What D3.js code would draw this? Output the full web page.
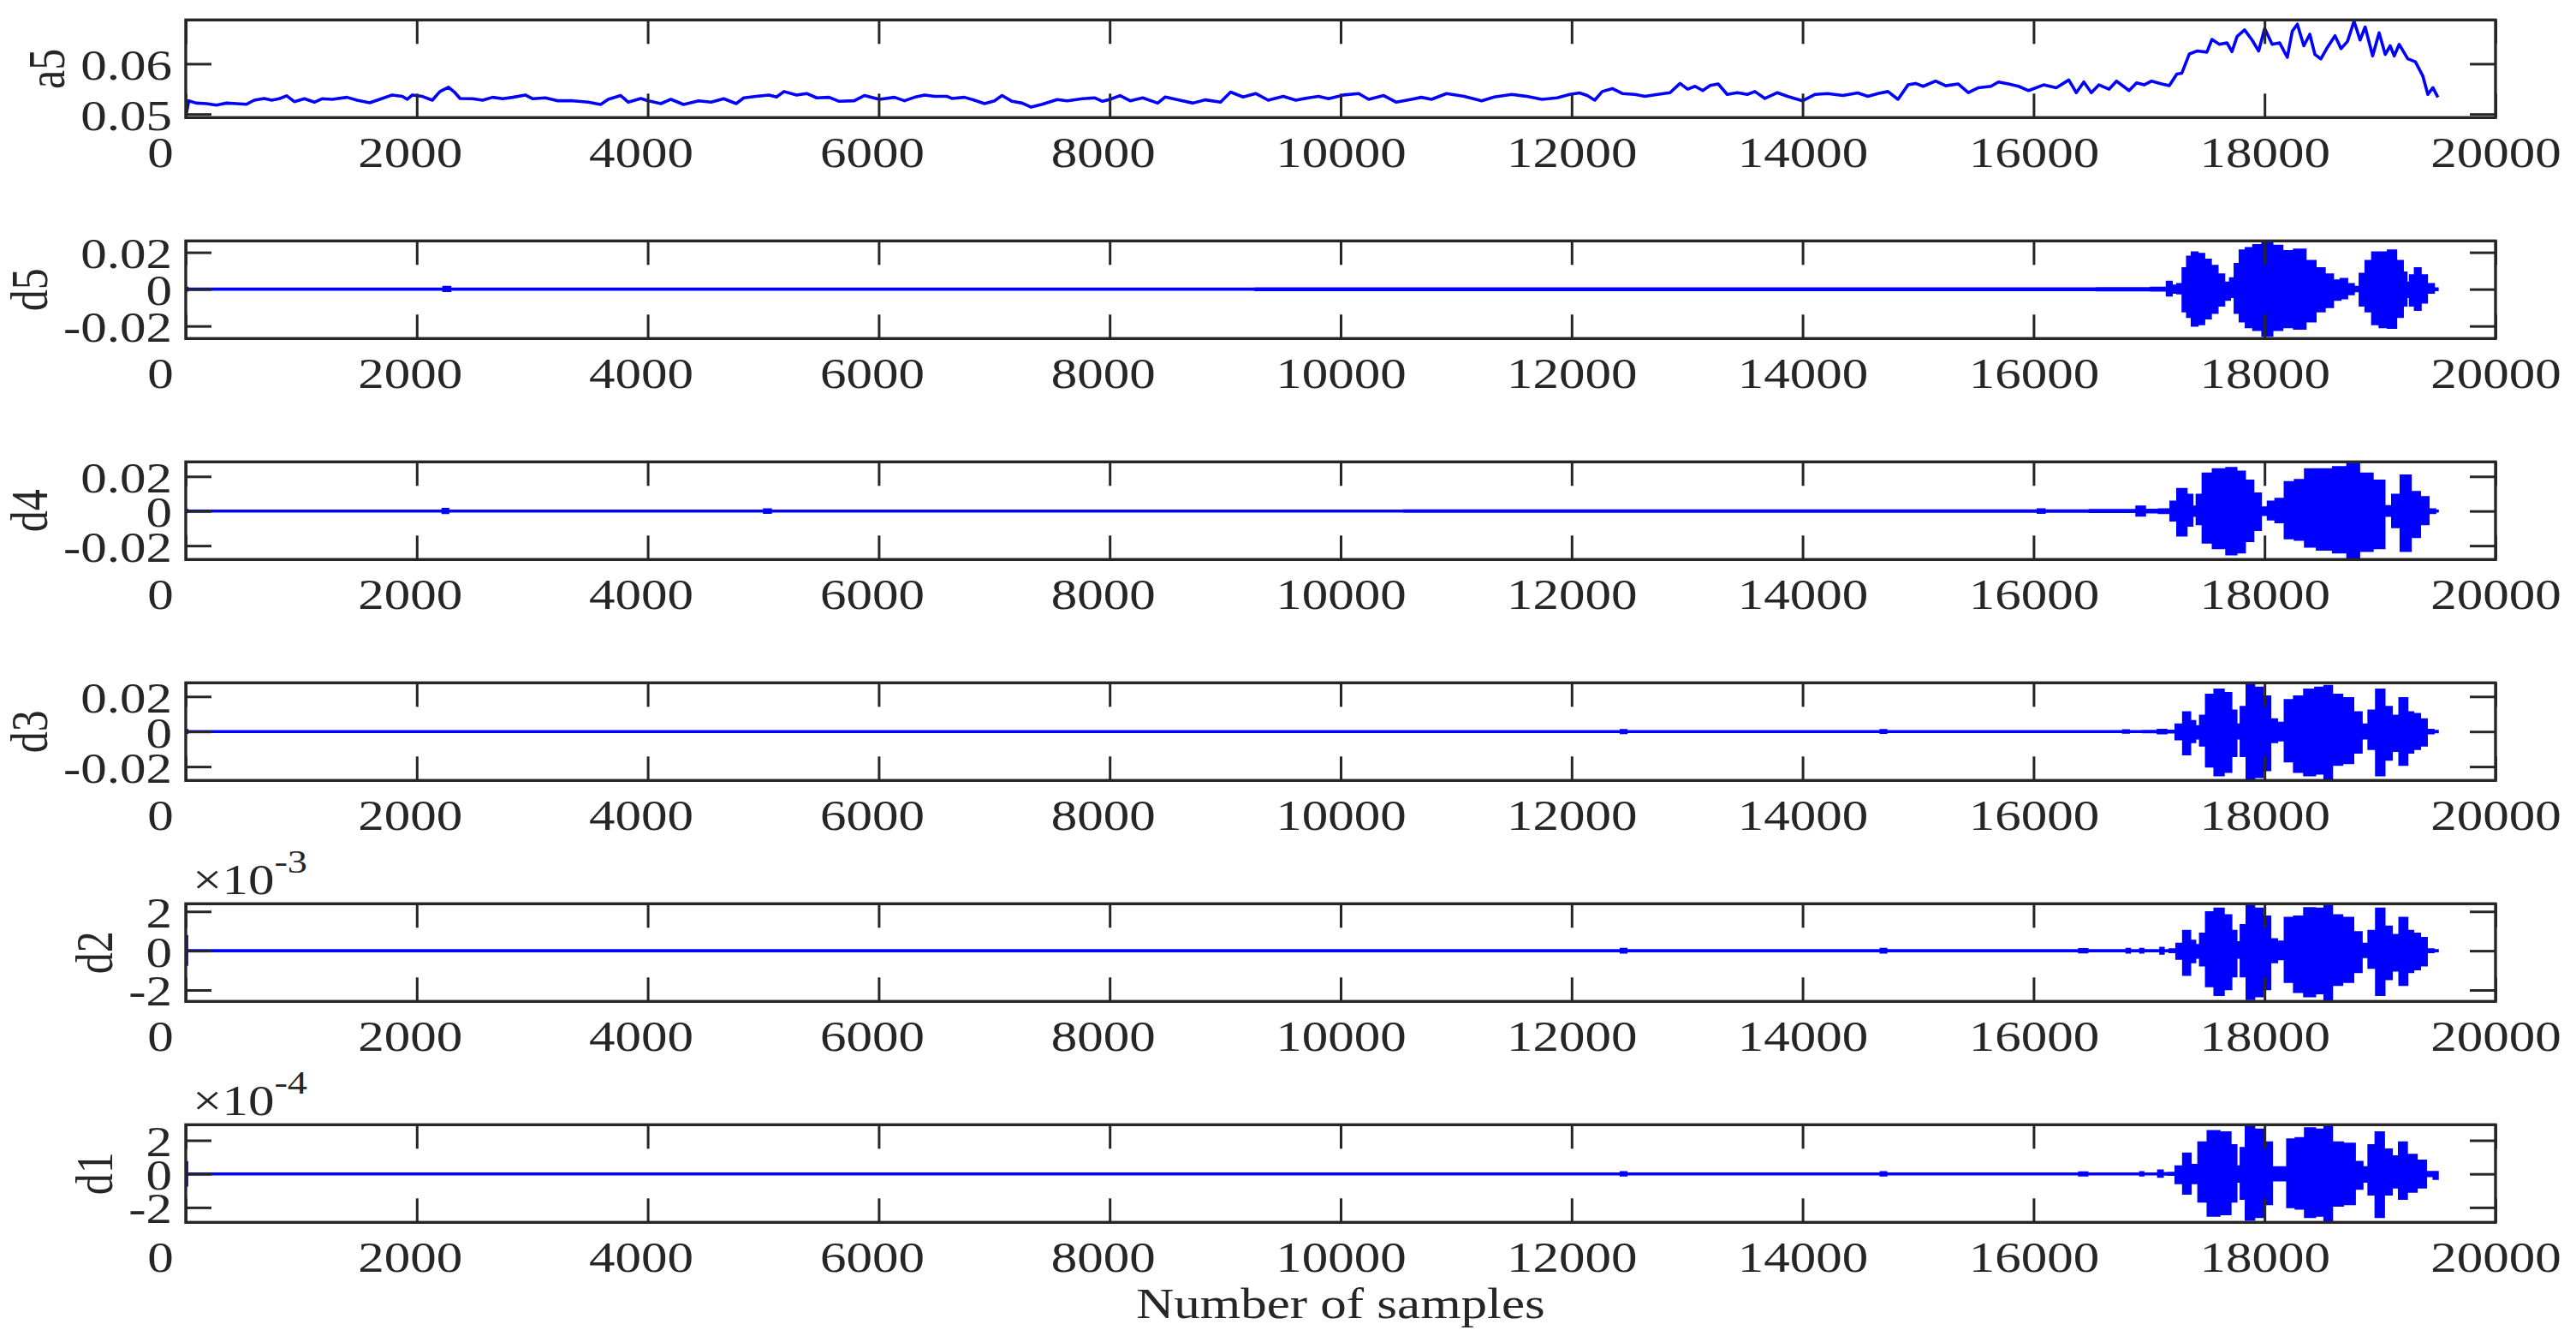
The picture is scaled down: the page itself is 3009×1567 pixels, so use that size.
<!DOCTYPE html>
<html>
<head>
<meta charset="utf-8">
<script src="https://cdn.jsdelivr.net/npm/d3@7"></script>
<style>
  body { margin: 0; background: #ffffff; }
  svg { display: block; }
  text { font-family: "Liberation Serif", "Times New Roman", serif; }
</style>
</head>
<body>
<svg id="chart"></svg>
<script>
const [WIDTH, HEIGHT] = [3009, 1567];
const LEFT = 217;
const PLOT_W = 2698;
const PLOT_H = 114;
const FIRST_TOP = 23.3;
const PANEL_STEP = 258;
const FONT_SIZE = 50;
const TEXT_STRETCH = 1.22; // the reference is stretched sideways
const AXIS_COLOR = "#262626";
const LINE_COLOR = "#0000ff";

// ---- axes ----
const xTicks = [0, 2000, 4000, 6000, 8000, 10000, 12000, 14000, 16000, 18000, 20000];
const panelNames = ["a5", "d5", "d4", "d3", "d2", "d1"];
const yDomains = [
  [0.0493, 0.0687],
  [-0.0268, 0.0262],
  [-0.0280, 0.0284],
  [-0.0279, 0.0278],
  [-0.00258, 0.00239],
  [-0.000289, 0.000293]
];
const yTicks = [
  [0.05, 0.06],
  [-0.02, 0, 0.02],
  [-0.02, 0, 0.02],
  [-0.02, 0, 0.02],
  [-0.002, 0, 0.002],
  [-0.0002, 0, 0.0002]
];
const yTickLabels = [
  ["0.05", "0.06"],
  ["-0.02", "0", "0.02"],
  ["-0.02", "0", "0.02"],
  ["-0.02", "0", "0.02"],
  ["-2", "0", "2"],
  ["-2", "0", "2"]
];
const exponents = [null, null, null, null, "-3", "-4"];
const xLabel = "Number of samples";

// ---- a5 approximation ----
const a5Samples = [0, 26, 91, 178, 265, 352, 439, 526, 592, 679, 744, 809, 874, 940, 1027, 1113, 1179, 1266, 1396, 1483,
  1592, 1679, 1788, 1875, 1918, 1962, 2049, 2135, 2201, 2275, 2331, 2375, 2483, 2570, 2657, 2744, 2831, 2940, 3005, 3114,
  3223, 3353, 3484, 3592, 3658, 3766, 3832, 3940, 4005, 4114, 4201, 4310, 4440, 4549, 4658, 4766, 4832, 4940, 5049, 5115,
  5180, 5289, 5376, 5463, 5571, 5658, 5788, 5876, 6006, 6137, 6223, 6310, 6397, 6484, 6593, 6633, 6742, 6829, 6916, 7003,
  7068, 7155, 7242, 7320, 7416, 7546, 7633, 7764, 7872, 7938, 8003, 8090, 8177, 8286, 8416, 8481, 8590, 8721, 8829, 8960,
  9047, 9155, 9264, 9373, 9503, 9612, 9721, 9808, 9895, 10025, 10156, 10243, 10373, 10482, 10613, 10699, 10786, 10917, 11069, 11221,
  11330, 11482, 11613, 11743, 11874, 11983, 12069, 12135, 12200, 12265, 12352, 12439, 12548, 12635, 12743, 12852, 12939, 13004, 13069, 13135,
  13200, 13269, 13347, 13434, 13521, 13587, 13674, 13782, 13869, 14000, 14109, 14217, 14348, 14478, 14565, 14652, 14739, 14826, 14913, 14978,
  15044, 15152, 15239, 15348, 15435, 15522, 15631, 15696, 15783, 15870, 15957, 16087, 16196, 16305, 16370, 16435, 16500, 16566, 16653, 16718,
  16827, 16892, 16957, 17022, 17109, 17175, 17240, 17283, 17349, 17414, 17501, 17544, 17609, 17675, 17718, 17762, 17827, 17892, 17949, 18001,
  18066, 18131, 18197, 18240, 18284, 18340, 18392, 18436, 18488, 18545, 18610, 18662, 18718, 18775, 18827, 18871, 18936, 18992, 19045, 19088,
  19123, 19166, 19240, 19306, 19371, 19414, 19458, 19501];
const a5Values = [0.04948, 0.05264, 0.05218, 0.05207, 0.05178, 0.05218, 0.05207, 0.05195, 0.05276, 0.05310, 0.05276, 0.05305, 0.05362, 0.05247, 0.05305, 0.05236, 0.05305, 0.05293, 0.05333, 0.05276,
  0.05224, 0.05293, 0.05379, 0.05351, 0.05293, 0.05379, 0.05351, 0.05276, 0.05448, 0.05534, 0.05425, 0.05310, 0.05305, 0.05276, 0.05333, 0.05305, 0.05333, 0.05379, 0.05305, 0.05322,
  0.05264, 0.05264, 0.05236, 0.05190, 0.05293, 0.05368, 0.05236, 0.05310, 0.05264, 0.05207, 0.05293, 0.05190, 0.05264, 0.05236, 0.05305, 0.05207, 0.05322, 0.05351, 0.05379, 0.05339,
  0.05448, 0.05379, 0.05408, 0.05322, 0.05333, 0.05253, 0.05264, 0.05368, 0.05293, 0.05333, 0.05264, 0.05333, 0.05379, 0.05351, 0.05351, 0.05310, 0.05333, 0.05276, 0.05207, 0.05264,
  0.05368, 0.05253, 0.05218, 0.05138, 0.05195, 0.05287, 0.05264, 0.05305, 0.05322, 0.05253, 0.05293, 0.05368, 0.05264, 0.05322, 0.05218, 0.05339, 0.05282, 0.05218, 0.05282, 0.05236,
  0.05437, 0.05339, 0.05408, 0.05276, 0.05351, 0.05276, 0.05322, 0.05351, 0.05305, 0.05379, 0.05408, 0.05293, 0.05368, 0.05236, 0.05293, 0.05333, 0.05293, 0.05408, 0.05351, 0.05264,
  0.05339, 0.05391, 0.05351, 0.05293, 0.05322, 0.05391, 0.05420, 0.05368, 0.05276, 0.05448, 0.05506, 0.05408, 0.05391, 0.05351, 0.05391, 0.05425, 0.05609, 0.05494, 0.05552, 0.05466,
  0.05569, 0.05598, 0.05391, 0.05425, 0.05391, 0.05448, 0.05310, 0.05425, 0.05351, 0.05264, 0.05391, 0.05408, 0.05368, 0.05420, 0.05351, 0.05408, 0.05448, 0.05293, 0.05580, 0.05609,
  0.05552, 0.05655, 0.05563, 0.05598, 0.05425, 0.05523, 0.05552, 0.05638, 0.05598, 0.05552, 0.05466, 0.05580, 0.05523, 0.05678, 0.05425, 0.05638, 0.05425, 0.05580, 0.05494, 0.05655,
  0.05466, 0.05621, 0.05580, 0.05655, 0.05598, 0.05563, 0.05793, 0.05810, 0.06195, 0.06253, 0.06230, 0.06483, 0.06385, 0.06414, 0.06241, 0.06540, 0.06672, 0.06471, 0.06253, 0.06701,
  0.06385, 0.06414, 0.06126, 0.06644, 0.06787, 0.06356, 0.06586, 0.06184, 0.06098, 0.06328, 0.06557, 0.06299, 0.06443, 0.06845, 0.06471, 0.06730, 0.06155, 0.06615, 0.06184, 0.06356,
  0.06155, 0.06385, 0.06098, 0.06040, 0.05753, 0.05391, 0.05523, 0.05333];

// ---- detail envelopes (upper / lower extent of the oscillation) ----
const d5Samples = [0, 30, 2200, 2261, 2320, 16200, 16900, 17132, 17175, 17218, 17270, 17310, 17348, 17391, 17449, 17506, 17564, 17622, 17679, 17722,
  17760, 17809, 17866, 17938, 18024, 18111, 18197, 18312, 18399, 18485, 18557, 18629, 18687, 18744, 18802, 18845, 18903, 18960, 19032, 19104,
  19176, 19219, 19240, 19277, 19326, 19378, 19435, 19499];
const d5Upper = [0.0008, 0.0003, 0.0003, 0.0012, 0.0003, 0.0005, 0.0006, 0.0008, 0.0041, 0.002, 0.0028, 0.0114, 0.0176, 0.020, 0.0192, 0.016, 0.0126, 0.008, 0.0036, 0.0059,
  0.0137, 0.021, 0.0223, 0.0239, 0.0259, 0.0236, 0.0207, 0.0215, 0.0153, 0.0114, 0.008, 0.0048, 0.0055, 0.0028, 0.0012, 0.0083, 0.0153, 0.020, 0.020, 0.021,
  0.0153, 0.009, 0.0036, 0.0075, 0.0114, 0.0075, 0.0028, 0.0005];
const d5Lower = [-0.0008, -0.0003, -0.0003, -0.0010, -0.0003, -0.0005, -0.0006, -0.0008, -0.0034, -0.0019, -0.0023, -0.012, -0.0151, -0.0198, -0.019, -0.0159, -0.0128, -0.0089, -0.0058, -0.0042,
  -0.0128, -0.0175, -0.0206, -0.0222, -0.0253, -0.0222, -0.0206, -0.0214, -0.0175, -0.012, -0.0097, -0.0058, -0.005, -0.0027, -0.0011, -0.0089, -0.012, -0.019, -0.0206, -0.021,
  -0.0151, -0.0089, -0.0042, -0.0089, -0.0112, -0.0073, -0.0019, -0.0005];

const d4Samples = [0, 30, 2200, 2246, 2300, 4980, 5033, 5100, 16000, 16071, 16120, 16850, 16930, 17000, 17170, 17200, 17288, 17361, 17390, 17434,
  17493, 17610, 17727, 17786, 17874, 17932, 18006, 18050, 18138, 18211, 18313, 18387, 18519, 18665, 18768, 18870, 19002, 19075, 19134, 19222,
  19310, 19383, 19457, 19500];
const d4Upper = [0.0006, 0.0003, 0.0003, 0.0012, 0.0003, 0.0003, 0.0010, 0.0003, 0.0004, 0.0010, 0.0004, 0.0006, 0.0026, 0.0008, 0.001, 0.0054, 0.0127, 0.0094, 0.0026, 0.0094,
  0.0216, 0.0241, 0.0249, 0.0228, 0.0176, 0.0102, 0.0021, 0.0054, 0.007, 0.0167, 0.0179, 0.0241, 0.0241, 0.0254, 0.0273, 0.0216, 0.0176, 0.0029, 0.0094, 0.0205,
  0.011, 0.0081, 0.001, 0.0003];
const d4Lower = [-0.0006, -0.0003, -0.0003, -0.0012, -0.0003, -0.0003, -0.0010, -0.0003, -0.0004, -0.0010, -0.0004, -0.0006, -0.0026, -0.0008, -0.0011, -0.0055, -0.0141, -0.0085, -0.0028, -0.0076,
  -0.0182, -0.0215, -0.025, -0.0239, -0.0174, -0.0109, -0.0023, -0.0049, -0.0065, -0.0158, -0.0166, -0.0206, -0.0223, -0.0239, -0.0272, -0.0231, -0.0215, -0.0028, -0.0093, -0.0231,
  -0.015, -0.0076, -0.0011, -0.0003];

const d3Samples = [0, 30, 12400, 12450, 12500, 14650, 14700, 14750, 16750, 16800, 16850, 17050, 17100, 17200, 17258, 17331, 17381, 17419, 17463, 17522,
  17610, 17683, 17742, 17771, 17815, 17874, 17947, 18020, 18079, 18138, 18211, 18299, 18387, 18489, 18548, 18621, 18724, 18812, 18870, 18929,
  19002, 19075, 19128, 19207, 19266, 19310, 19383, 19427, 19500];
const d3Upper = [0.0008, 0.0003, 0.0003, 0.0009, 0.0003, 0.0003, 0.0008, 0.0003, 0.0003, 0.0007, 0.0003, 0.0004, 0.001, 0.0005, 0.004, 0.011, 0.006, 0.003, 0.009, 0.021,
  0.024, 0.022, 0.012, 0.004, 0.014, 0.027, 0.025, 0.020, 0.007, 0.005, 0.018, 0.020, 0.024, 0.025, 0.026, 0.021, 0.019, 0.011, 0.004, 0.012,
  0.024, 0.014, 0.009, 0.019, 0.011, 0.010, 0.007, 0.001, 0.0004];
const d3Lower = [-0.0008, -0.0003, -0.0003, -0.0009, -0.0003, -0.0003, -0.0008, -0.0003, -0.0003, -0.0007, -0.0003, -0.0004, -0.001, -0.0005, -0.0045, -0.013, -0.006, -0.004, -0.008, -0.020,
  -0.025, -0.023, -0.014, -0.004, -0.014, -0.028, -0.026, -0.022, -0.006, -0.005, -0.017, -0.023, -0.025, -0.024, -0.027, -0.019, -0.018, -0.012, -0.004, -0.010,
  -0.025, -0.016, -0.011, -0.019, -0.012, -0.010, -0.008, -0.001, -0.0004];

const d2Samples = [0, 25, 12400, 12450, 12500, 14650, 14700, 14750, 16380, 16408, 16452, 16480, 16790, 16819, 16850, 16910, 16936, 16965, 17082, 17112,
  17141, 17214, 17258, 17331, 17381, 17419, 17463, 17522, 17610, 17683, 17742, 17771, 17815, 17874, 17947, 18020, 18079, 18138, 18211, 18299,
  18387, 18489, 18548, 18621, 18724, 18812, 18870, 18929, 19002, 19075, 19128, 19207, 19266, 19310, 19383, 19427, 19500];
const d2Upper = [0.00075, 0.00003, 0.00003, 0.00009, 0.00003, 0.00003, 0.00009, 0.00003, 0.00003, 0.00008, 0.00008, 0.00003, 0.00003, 0.00009, 0.00003, 0.00003, 0.00009, 0.00003, 0.00003, 0.000145,
  0.00003, 0.00007, 0.00036, 0.00101, 0.00051, 0.00029, 0.00087, 0.00196, 0.00214, 0.00181, 0.00101, 0.00043, 0.0013, 0.00229, 0.00214, 0.00174, 0.00058, 0.00046, 0.00167, 0.00174,
  0.00217, 0.00214, 0.00235, 0.00181, 0.00167, 0.00094, 0.00036, 0.00101, 0.00214, 0.00123, 0.0008, 0.00167, 0.00101, 0.00087, 0.00065, 0.00007, 0.00003];
const d2Lower = [-0.00072, -0.00003, -0.00003, -0.00009, -0.00003, -0.00003, -0.00009, -0.00003, -0.00003, -0.00008, -0.00008, -0.00003, -0.00003, -0.00009, -0.00003, -0.00003, -0.00009, -0.00003, -0.00003, -0.000145,
  -0.00003, -0.00007, -0.00041, -0.00123, -0.00058, -0.00036, -0.00075, -0.00181, -0.00225, -0.00196, -0.0013, -0.00036, -0.0013, -0.00246, -0.00232, -0.00196, -0.00058, -0.00043, -0.00159, -0.0021,
  -0.00232, -0.00217, -0.00254, -0.00174, -0.00159, -0.00109, -0.00032, -0.00087, -0.00225, -0.00145, -0.00101, -0.00174, -0.00109, -0.00094, -0.00075, -0.00007, -0.00003];

const d1Samples = [0, 25, 12400, 12450, 12500, 14650, 14700, 14750, 16380, 16408, 16452, 16480, 16910, 16936, 16965, 17060, 17097, 17140, 17200, 17258,
  17331, 17390, 17463, 17551, 17669, 17742, 17771, 17815, 17859, 17962, 18035, 18094, 18167, 18225, 18313, 18387, 18489, 18548, 18621, 18738,
  18826, 18870, 18929, 18993, 19075, 19128, 19199, 19266, 19369, 19427, 19500];
const d1Upper = [0.00007, 0.000003, 0.000003, 0.00001, 0.000003, 0.000003, 0.00001, 0.000003, 0.000003, 0.000009, 0.000009, 0.000003, 0.000003, 0.00001, 0.000003, 0.000003, 0.00002, 0.000005, 0.000006, 0.000045,
  0.000121, 0.000054, 0.000188, 0.000255, 0.000247, 0.000171, 0.000045, 0.000155, 0.00028, 0.000264, 0.000188, 0.00004, 0.00004, 0.000205, 0.000213, 0.000272, 0.000264, 0.000286, 0.000188, 0.00018,
  0.000071, 0.00004, 0.000171, 0.000247, 0.000146, 0.000104, 0.000188, 0.000113, 0.000079, 0.000012, 0.000012];
const d1Lower = [-0.00007, -0.000003, -0.000003, -0.00001, -0.000003, -0.000003, -0.00001, -0.000003, -0.000003, -0.000009, -0.000009, -0.000003, -0.000003, -0.00001, -0.000003, -0.000003, -0.000017, -0.000005, -0.000006, -0.000055,
  -0.000118, -0.000055, -0.000165, -0.000249, -0.00024, -0.000165, -0.000047, -0.000148, -0.000274, -0.000257, -0.000181, -0.000039, -0.000039, -0.000198, -0.000207, -0.000257, -0.000249, -0.000282, -0.00019, -0.000181,
  -0.000089, -0.000047, -0.000123, -0.000257, -0.000123, -0.000081, -0.000148, -0.000106, -0.000081, -0.000013, -0.00003];

const envelopes = {
  d5: [d5Samples, d5Upper, d5Lower],
  d4: [d4Samples, d4Upper, d4Lower],
  d3: [d3Samples, d3Upper, d3Lower],
  d2: [d2Samples, d2Upper, d2Lower],
  d1: [d1Samples, d1Upper, d1Lower]
};

// tick labels sit a little left of their ticks in the reference
const xLabelShift = (d) => {
  const len = String(d).length;
  if (len === 1) return -30;
  if (len === 4) return -8;
  return 0;
};

const svg = d3.select("#chart").attr("width", WIDTH).attr("height", HEIGHT);
svg.append("rect").attr("width", WIDTH).attr("height", HEIGHT).attr("fill", "#ffffff");

const x = d3.scaleLinear().domain([0, 20000]).range([0, PLOT_W]);

const styleAxis = (sel) => {
  sel.attr("font-family", null).attr("font-size", null).attr("color", AXIS_COLOR);
  sel.select(".domain").remove();
  sel.selectAll("line").attr("stroke-width", 3);
};

panelNames.forEach((name, i) => {
  const top = FIRST_TOP + i * PANEL_STEP;
  const y = d3.scaleLinear().domain(yDomains[i]).range([PLOT_H, 0]);
  const g = svg.append("g").attr("transform", `translate(${LEFT},${top})`);

  g.append("clipPath").attr("id", `clip_${name}`)
    .append("rect").attr("width", PLOT_W).attr("height", PLOT_H);
  const plot = g.append("g").attr("clip-path", `url(#clip_${name})`);

  if (name === "a5") {
    const line = d3.line()
      .x((d) => x(d))
      .y((d, j) => y(a5Values[j]));
    plot.append("path")
      .attr("d", line(a5Samples))
      .attr("fill", "none")
      .attr("stroke", LINE_COLOR)
      .attr("stroke-width", 3.6)
      .attr("stroke-linejoin", "round");
  } else {
    const [samples, upper, lower] = envelopes[name];
    const area = d3.area()
      .curve(d3.curveStep)
      .x((d) => x(d))
      .y0((d, j) => y(lower[j]))
      .y1((d, j) => y(upper[j]));
    plot.append("path")
      .attr("d", area(samples))
      .attr("fill", LINE_COLOR)
      .attr("stroke", LINE_COLOR)
      .attr("stroke-width", 2.4);
  }

  // Ticks on all four sides, pointing inwards
  g.append("g")
    .attr("transform", `translate(0,${PLOT_H})`)
    .call(d3.axisBottom(x).tickValues(xTicks).tickSizeInner(-28).tickSizeOuter(0).tickFormat(d3.format("d")))
    .call(styleAxis)
    .selectAll("text")
    .attr("x", null).attr("y", null).attr("dy", null)
    .attr("font-size", FONT_SIZE)
    .attr("transform", (d) => `translate(${xLabelShift(d)},58) scale(${TEXT_STRETCH},1)`);

  g.append("g")
    .call(d3.axisTop(x).tickValues(xTicks).tickSizeInner(-28).tickSizeOuter(0).tickFormat(""))
    .call(styleAxis);

  const leftAxis = g.append("g")
    .call(d3.axisLeft(y).tickValues(yTicks[i]).tickSizeInner(-30).tickSizeOuter(0)
      .tickFormat((d, j) => yTickLabels[i][j]))
    .call(styleAxis);
  leftAxis.selectAll("text")
    .attr("x", null).attr("y", null).attr("dy", null)
    .attr("font-size", FONT_SIZE)
    .attr("transform", `translate(-16,18) scale(${TEXT_STRETCH},1)`);

  g.append("g")
    .attr("transform", `translate(${PLOT_W},0)`)
    .call(d3.axisRight(y).tickValues(yTicks[i]).tickSizeInner(-30).tickSizeOuter(0).tickFormat(""))
    .call(styleAxis);

  g.append("rect")
    .attr("width", PLOT_W)
    .attr("height", PLOT_H)
    .attr("fill", "none")
    .attr("stroke", AXIS_COLOR)
    .attr("stroke-width", 3.4);

  // Panel name sits left of the widest tick label
  let minLeft = Infinity;
  leftAxis.selectAll("text").each(function () {
    minLeft = Math.min(minLeft, this.getBoundingClientRect().left);
  });
  svg.append("text")
    .attr("transform", `translate(${minLeft - 19},${top + PLOT_H / 2}) scale(${TEXT_STRETCH},1) rotate(-90)`)
    .attr("text-anchor", "middle")
    .attr("font-size", FONT_SIZE)
    .attr("fill", AXIS_COLOR)
    .text(name);

  if (exponents[i]) {
    const ex = svg.append("text")
      .attr("transform", `translate(${LEFT + 8},${top - 11.7}) scale(${TEXT_STRETCH},1)`)
      .attr("font-size", 50)
      .attr("fill", AXIS_COLOR);
    ex.append("tspan").text("\u00d710");
    ex.append("tspan").attr("dy", -25).attr("font-size", 38).text(exponents[i]);
  }
});

svg.append("text")
  .attr("transform", `translate(${LEFT + PLOT_W / 2},1539) scale(${TEXT_STRETCH},1)`)
  .attr("text-anchor", "middle")
  .attr("font-size", FONT_SIZE)
  .attr("fill", AXIS_COLOR)
  .text(xLabel);
</script>
</body>
</html>
